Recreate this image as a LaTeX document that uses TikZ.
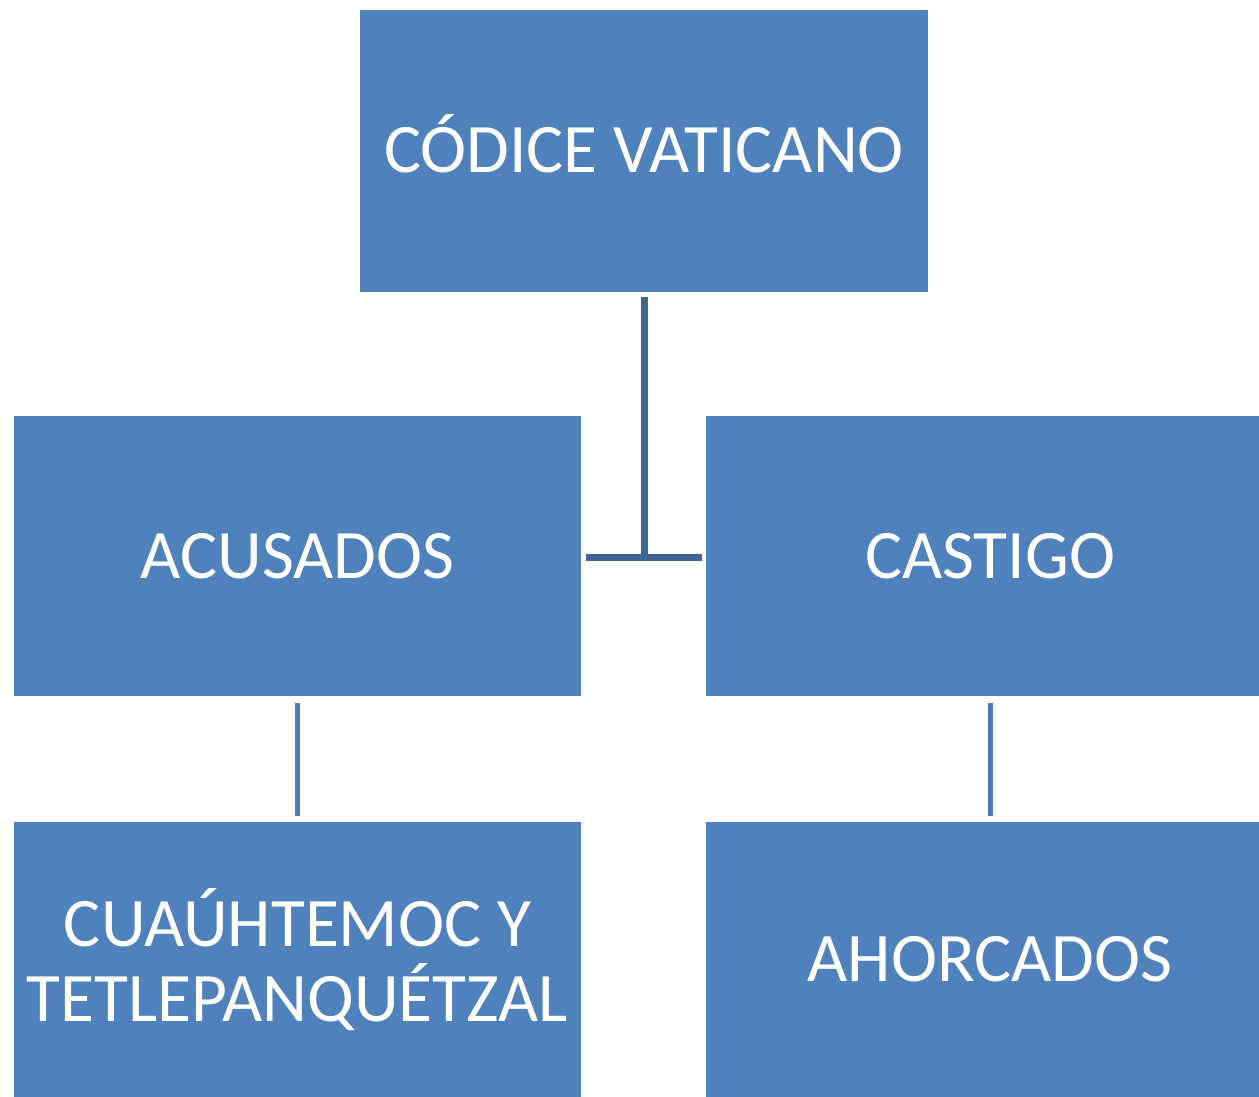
\documentclass[tikz,border=0pt]{standalone}
\usepackage{fontspec}
\setmainfont{Carlito}
\definecolor{boxfill}{HTML}{4F81BD}
\definecolor{darkline}{HTML}{3F6696}
\definecolor{lightline}{HTML}{4D7DB8}
\begin{document}
\begin{tikzpicture}[x=1pt,y=-1pt,
  box/.style={fill=boxfill,draw=none,text=white,align=center,inner sep=0pt,
    font=\fontsize{69.5}{75}\selectfont},
  trunk/.style={draw=darkline,line width=7pt},
  branch/.style={draw=lightline,line width=5pt}]
\clip (0,0) rectangle (1259,1097);
\useasboundingbox (0,0) rectangle (1259,1097);
\node[box,minimum width=568pt,minimum height=282pt,text height=50pt,text depth=8pt] (top) at (644,151) {CÓDICE VATICANO};
\node[box,minimum width=567pt,minimum height=280pt] (acu) at (297.5,556) {ACUSADOS};
\node[box,minimum width=568pt,minimum height=280pt] (cas) at (990,556) {CASTIGO};
\node[box,minimum width=567pt,minimum height=275pt] (cua) at (297.5,959.5) {CUAÚHTEMOC Y\\TETLEPANQUÉTZAL};
\node[box,minimum width=568pt,minimum height=275pt] (aho) at (990,959.5) {AHORCADOS};
\coordinate (j) at (644,557);
\coordinate (jl) at (586,557);
\coordinate (jr) at (702,557);
\draw[trunk] (top.south) ++(0,5) -- (j);
\draw[trunk] (jl) -- (jr);
\draw[branch] ([yshift=-7pt]acu.south) -- ([yshift=6pt]cua.north);
\draw[branch] ([yshift=-7pt]cas.south) -- ([yshift=6pt]aho.north);
\end{tikzpicture}
\end{document}
